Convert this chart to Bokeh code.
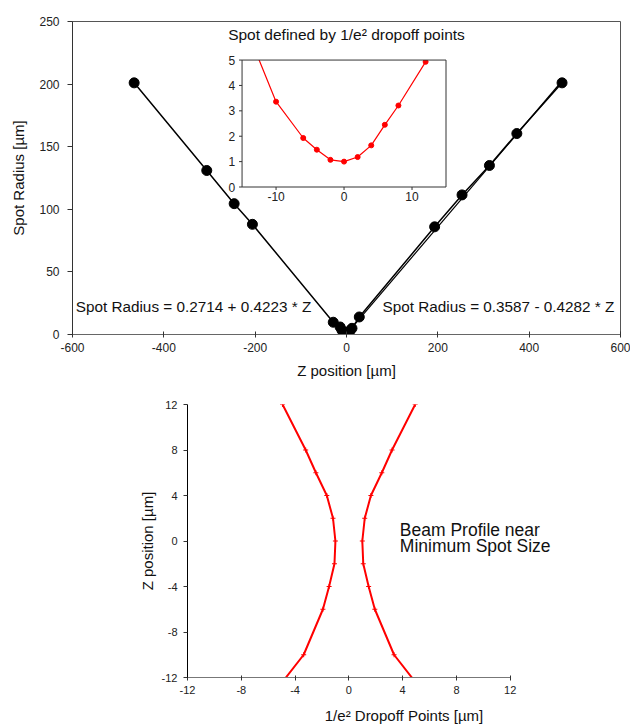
import math
from bokeh.plotting import figure
from bokeh.models import Range1d, FixedTicker, Label
from bokeh.core.properties import value
from bokeh.layouts import column
from bokeh.embed import file_html
from bokeh.resources import INLINE

FONT = "Liberation Sans"

# ---- data -------------------------------------------------------------
# far-field measurements (Z position in um, spot radius in um)
far_left_z = [-465, -306, -246, -206, -29]
far_left_r = [201, 131, 104.5, 88, 9.8]
far_right_z = [28, 193, 253, 313, 373, 472]
far_right_r = [14, 86, 111.5, 135, 160.5, 201]

# near-focus measurements (Z position in um, 1/e^2 spot radius in um)
near_z = [-14, -10, -6, -4, -2, 0, 2, 4, 6, 8, 12]
near_r = [6.0, 3.36, 1.93, 1.47, 1.07, 1.0, 1.18, 1.64, 2.45, 3.21, 4.93]

# linear fit of the right branch
right_fit = (0.3587, 0.4282)

main_xticks = [-600, -400, -200, 0, 200, 400, 600]
main_yticks = [0, 50, 100, 150, 200, 250]
inset_xticks = [-10, 0, 10]
inset_yticks = [0, 1, 2, 3, 4, 5]
beam_ticks = [-12, -8, -4, 0, 4, 8, 12]

# ---- layout constants (placement only) --------------------------------
INSET_X = (-15, 15)          # inset data ranges
INSET_Y = (0, 5)
INSET_AT_X = (-228.7, 217.9) # where the inset frame sits, in main-plot units
INSET_AT_Y = (117.8, 219.2)
INSET_MASK_TOP = 6.2
BEAM_X_END = 20.2            # frame extends right of the axis to hold the note

all_z = far_left_z + near_z + far_right_z
all_r = far_left_r + near_r + far_right_r


def labels_for(ticks):
    return {t: str(t) for t in ticks}


def style_axes(fig, tick_size="12px", label_size="15px"):
    for ax in (fig.xaxis[0], fig.yaxis[0]):
        ax.major_label_text_font = FONT
        ax.major_label_text_font_size = tick_size
        ax.major_label_text_color = "#222222"
        ax.axis_label_text_font = FONT
        ax.axis_label_text_font_size = label_size
        ax.axis_label_text_font_style = "normal"
        ax.axis_label_text_color = "#111111"
        ax.minor_tick_line_color = None
        ax.major_tick_line_color = "#333333"
        ax.axis_line_color = "#333333"
    fig.xgrid.visible = False
    fig.ygrid.visible = False


# ---- main plot ---------------------------------------------------------
p = figure(width=646, height=388, x_range=Range1d(-600, 600), y_range=Range1d(0, 250),
           output_backend="svg", toolbar_location=None,
           min_border_left=80, min_border_right=10, min_border_top=21, min_border_bottom=54,
           margin=(0, 0, 0, -8))
style_axes(p)
p.outline_line_color = "#555555"
p.xaxis.ticker = FixedTicker(ticks=main_xticks)
p.yaxis.ticker = FixedTicker(ticks=main_yticks)
p.xaxis.major_label_overrides = labels_for(main_xticks)
p.yaxis.major_label_overrides = labels_for(main_yticks)
p.xaxis.axis_label = "Z position [µm]"
p.yaxis.axis_label = "Spot Radius [µm]"
p.xaxis.major_tick_in = 3
p.xaxis.major_tick_out = 3
p.yaxis.major_tick_in = 0
p.yaxis.major_tick_out = 5
p.xaxis.major_label_standoff = 5
p.xaxis.axis_label_standoff = 7
p.yaxis.major_label_standoff = 8
p.yaxis.axis_label_standoff = 9
p.xaxis.axis_line_color = "#666666"

rz = [0, far_right_z[-1]]
p.line(rz, [right_fit[0] + right_fit[1] * z for z in rz], line_color="black", line_width=1.2)
p.line(all_z, all_r, line_color="black", line_width=1.5)
p.scatter(all_z, all_r, size=10, color="black")

# ---- inset (drawn in its own coordinate system inside the main plot) ----
xy = p.subplot(x_source=Range1d(*INSET_X), y_source=Range1d(*INSET_Y),
               x_target=Range1d(*INSET_AT_X), y_target=Range1d(*INSET_AT_Y))
xy.quad(left=[INSET_X[0]], right=[INSET_X[1]], bottom=[INSET_Y[0]], top=[INSET_Y[1]],
        fill_color="white", line_color=None)
xy.line(near_z, near_r, line_color="red", line_width=1.2)
xy.scatter(near_z, near_r, size=5, color="red")
xy.quad(left=[INSET_X[0] - 0.5], right=[INSET_X[1]], bottom=[INSET_Y[1]], top=[INSET_MASK_TOP],
        fill_color="white", line_color=None)
xy.quad(left=[INSET_X[0]], right=[INSET_X[1]], bottom=[INSET_Y[0]], top=[INSET_Y[1]],
        fill_color=None, line_color="#333333", line_width=1)
xy.ray(x=inset_xticks, y=[INSET_Y[0]] * len(inset_xticks), length=3, length_units="screen",
       angle=-math.pi / 2, line_color="#333333")
xy.ray(x=[INSET_X[0]] * len(inset_yticks), y=inset_yticks, length=3, length_units="screen",
       angle=math.pi, line_color="#333333")
xy.text(x=inset_xticks, y=[INSET_Y[0]] * len(inset_xticks), text=[str(t) for t in inset_xticks],
        text_align="center", text_baseline="top", y_offset=5,
        text_font=value(FONT), text_font_size="12px", text_color="#222222")
xy.text(x=[INSET_X[0]] * len(inset_yticks), y=inset_yticks, text=[str(t) for t in inset_yticks],
        text_align="right", text_baseline="middle", x_offset=-7,
        text_font=value(FONT), text_font_size="12px", text_color="#222222")

p.add_layout(Label(x=0, y=240, text="Spot defined by 1/e² dropoff points", text_align="center",
                   text_baseline="middle", text_font=FONT, text_font_size="15.5px", text_color="#111111"))
p.add_layout(Label(x=-593, y=22, text="Spot Radius = 0.2714 + 0.4223 * Z", text_align="left",
                   text_baseline="middle", text_font=FONT, text_font_size="15.3px", text_color="#111111"))
p.add_layout(Label(x=79, y=22, text="Spot Radius = 0.3587 - 0.4282 * Z", text_align="left",
                   text_baseline="middle", text_font=FONT, text_font_size="15.3px", text_color="#111111"))

# ---- beam profile ------------------------------------------------------
pb = figure(width=523, height=338, x_range=Range1d(-12, BEAM_X_END), y_range=Range1d(-12, 12),
            output_backend="svg", toolbar_location=None,
            min_border_left=80, min_border_right=10, min_border_top=16, min_border_bottom=47,
            margin=(0, 0, 0, 107))
style_axes(pb, tick_size="11px")
pb.outline_line_color = None
pb.xaxis.ticker = FixedTicker(ticks=beam_ticks)
pb.yaxis.ticker = FixedTicker(ticks=beam_ticks)
pb.xaxis.major_label_overrides = labels_for(beam_ticks)
pb.yaxis.major_label_overrides = labels_for(beam_ticks)
pb.xaxis.bounds = (beam_ticks[0], beam_ticks[-1])
pb.xaxis.axis_label = "1/e² Dropoff Points [µm]"
pb.yaxis.axis_label = "Z position [µm]"
pb.xaxis.major_tick_in = 2
pb.xaxis.major_tick_out = 3
pb.yaxis.major_tick_in = 0
pb.yaxis.major_tick_out = 4
pb.xaxis.axis_line_color = "#777777"
pb.yaxis.axis_line_color = "black"
pb.xaxis.major_label_standoff = 5
pb.xaxis.axis_label_standoff = 10
pb.yaxis.major_label_standoff = 6
pb.yaxis.axis_label_standoff = 3

neg_r = [-r for r in near_r]
pb.line(neg_r, near_z, line_color="red", line_width=2)
pb.scatter(neg_r, near_z, marker="cross", size=5, color="red")
pb.line(near_r, near_z, line_color="red", line_width=2)
pb.scatter(near_r, near_z, marker="cross", size=5, color="red")
pb.add_layout(Label(x=3.79, y=0.99, text="Beam Profile near", text_baseline="middle",
                    text_font=FONT, text_font_size="17.5px", text_color="#111111"))
pb.add_layout(Label(x=3.79, y=-0.47, text="Minimum Spot Size", text_baseline="middle",
                    text_font=FONT, text_font_size="17.5px", text_color="#111111"))

layout = column(p, pb, spacing=0)

open("out.html", "w").write(file_html(layout, INLINE))
